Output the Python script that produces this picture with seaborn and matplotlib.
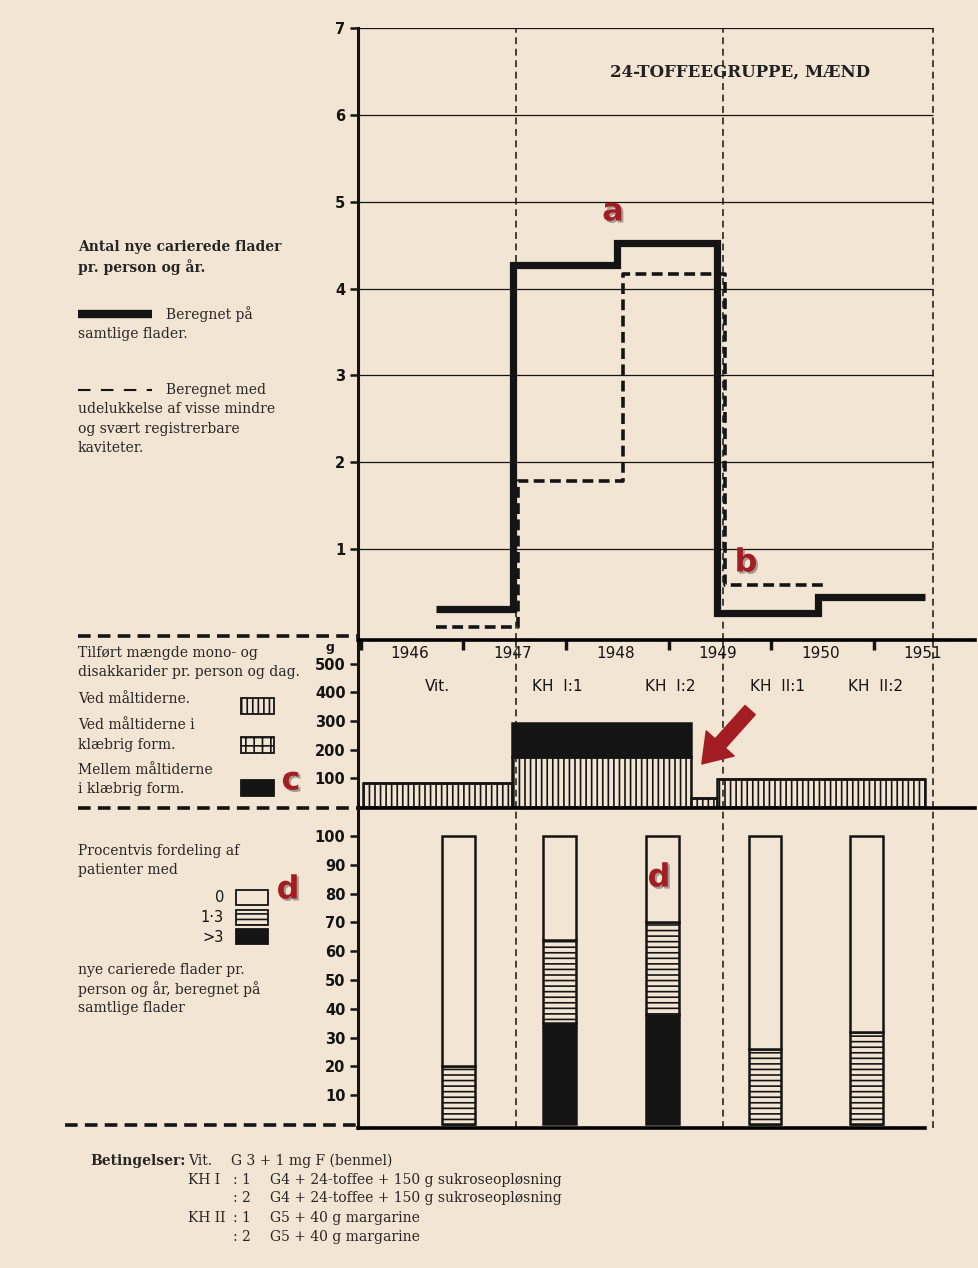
import matplotlib
matplotlib.use("Agg")
import matplotlib.pyplot as plt
import matplotlib.patheffects as pe
from matplotlib.patches import Rectangle, FancyArrowPatch
from matplotlib.lines import Line2D
import seaborn as sns

W, H = 979, 1268
BG = "#f3e5d3"
INK = "#141414"
RED = "#a31d23"
SERIF = "DejaVu Serif"
SANS = "DejaVu Sans"

## top panel: new carious surfaces per person and year (step lines)
solid_x = [1946.23, 1946.98, 1948.0, 1948.97, 1949.96, 1951.0]
solid_y = [0.31, 4.27, 4.53, 0.27, 0.45, 0.45]
dash_x = [1946.23, 1947.03, 1948.06, 1949.05, 1950.03]
dash_y = [0.10, 1.78, 4.17, 0.59, 0.59]

## middle panel: mono- and disaccharides, g per person and day
period_start = [1945.52, 1946.97, 1948.72, 1948.97]
period_end = [1946.97, 1948.72, 1948.97, 1951.0]
at_meals = [85, 173, 30, 97]
between_meals = [0, 120, 0, 0]

## bottom panel: percent of patients by new carious surfaces
group_x = [1946.45, 1947.44, 1948.44, 1949.44, 1950.43]
pct_over3 = [0, 35, 38, 0, 0]
pct_1to3 = [20, 29, 32, 26, 32]
pct_0 = [80, 36, 30, 74, 68]

years = [1946, 1947, 1948, 1949, 1950, 1951]
period_labels = ["Vit.", "KH  I:1", "KH  I:2", "KH  II:1", "KH  II:2"]
period_label_x = [1946.25, 1947.42, 1948.52, 1949.56, 1950.52]
boundaries = [1947.01, 1949.03, 1951.08]

plt.rcParams['hatch.linewidth'] = 1.2
fig = plt.figure(figsize=(W / 100, H / 100), dpi=100, facecolor=BG)

TICKFONT = dict(family=SANS, weight='bold', size=10.5)


def fx(x):
    return x / W


def fy(y):
    return 1 - y / H


def add_ax(top, bottom):
    ax = fig.add_axes([fx(358), fy(bottom), (975 - 358) / W, (bottom - top) / H])
    ax.set_facecolor("none")
    ax.set_xlim(1945.474, 1951.487)
    for s in ax.spines.values():
        s.set_visible(False)
    ax.spines['left'].set_visible(True)
    ax.spines['left'].set_linewidth(2.2)
    ax.spines['left'].set_color(INK)
    ax.tick_params(axis='y', direction='out', length=6, width=1.8, color=INK,
                   labelcolor=INK, pad=3)
    return ax


def style_ticklabels(ax):
    for t in ax.get_yticklabels():
        t.set_fontproperties(TICKFONT)
        t.set_color(INK)


ax_top = add_ax(28, 640)
ax_mid = add_ax(640, 808)
ax_bot = add_ax(808, 1128)

# ---------- top panel
ax_top.set_ylim(-0.046, 7.0)
ax_top.set_yticks(range(1, 8))
ax_top.set_xticks([])
ax_top.hlines(range(1, 8), 1945.474, 1951.08, color=INK, lw=0.9)
sns.lineplot(x=solid_x, y=solid_y, ax=ax_top, drawstyle='steps-post', color=INK,
             lw=5.2, estimator=None, sort=False, solid_joinstyle='miter',
             solid_capstyle='butt')
sns.lineplot(x=dash_x, y=dash_y, ax=ax_top, drawstyle='steps-post', color=INK,
             lw=2.6, estimator=None, sort=False, linestyle=(0, (3, 1.5)))
for b in boundaries:
    ax_top.axvline(b, color=INK, lw=1.1, linestyle=(0, (4.5, 3)))
ax_top.set_xlabel("")
ax_top.set_ylabel("")
style_ticklabels(ax_top)

# ---------- middle panel
ax_mid.set_ylim(-3.5, 582)
ax_mid.set_yticks([100, 200, 300, 400, 500])
ax_mid.spines['top'].set_visible(True)
ax_mid.spines['bottom'].set_visible(True)
ax_mid.spines['top'].set_linewidth(2.6)
ax_mid.spines['bottom'].set_linewidth(2.6)
ax_mid.set_xticks([y - 0.5 for y in years])
ax_mid.xaxis.set_ticks_position('top')
ax_mid.tick_params(axis='x', direction='in', length=7, width=2.5, color=INK,
                   labeltop=False, labelbottom=False)
widths = [e - s for s, e in zip(period_start, period_end)]
ax_mid.bar(period_start, at_meals, width=widths, align='edge', color=BG,
           edgecolor=INK, hatch='|||', lw=1.8)
ax_mid.bar(period_start, between_meals, width=widths, bottom=at_meals, align='edge',
           color=INK, edgecolor=INK, lw=1.8)
for b in boundaries:
    ax_mid.axvline(b, color=INK, lw=1.1, linestyle=(0, (4.5, 3)))
for yr in years:
    ax_mid.text(yr - 0.02, 535, str(yr), ha='center', va='center', fontsize=11,
                family=SANS, color=INK)
for lab, xl in zip(period_labels, period_label_x):
    ax_mid.text(xl, 420, lab, ha='center', va='center', fontsize=11,
                family=SANS, color=INK)
ax_mid.text(1945.2, 555, "g", ha='center', va='center', fontsize=9, family=SANS,
            weight='bold', color=INK)
style_ticklabels(ax_mid)

# ---------- bottom panel
ax_bot.set_ylim(-1.4, 109.7)
ax_bot.set_yticks(range(10, 101, 10))
ax_bot.set_xticks([])
ax_bot.spines['bottom'].set_visible(True)
ax_bot.spines['bottom'].set_linewidth(2.6)
ax_bot.spines['bottom'].set_bounds(1945.474, 1951.0)
bar_w = 0.32
ax_bot.bar(group_x, pct_over3, width=bar_w, color=INK, edgecolor=INK, lw=1.8)
ax_bot.bar(group_x, pct_1to3, width=bar_w, bottom=pct_over3, color=BG,
           edgecolor=INK, hatch='---', lw=1.8)
base0 = [a + b for a, b in zip(pct_over3, pct_1to3)]
ax_bot.bar(group_x, pct_0, width=bar_w, bottom=base0, color=BG, edgecolor=INK, lw=1.8)
for b in boundaries:
    ax_bot.axvline(b, color=INK, lw=1.1, linestyle=(0, (4.5, 3)))
style_ticklabels(ax_bot)

# ---------- separators on the left
for y0, x0 in [(636, 78), (808, 78), (1125, 65)]:
    fig.add_artist(Line2D([fx(x0), fx(358)], [fy(y0), fy(y0)], color=INK, lw=2.6,
                          linestyle=(0, (3.5, 2))))

# ---------- title
fig.text(fx(740), fy(72), "24-TOFFEEGRUPPE, MÆND", ha='center', va='center',
         fontsize=12, weight='bold', family=SERIF, color="#222222")


def serif(x, y, s, **kw):
    fig.text(fx(x), fy(y), s, ha='left', va='center', fontsize=10, family=SERIF,
             color="#262626", **kw)


serif(78, 247, "Antal nye carierede flader", weight='bold')
serif(78, 267, "pr. person og år.", weight='bold')
fig.add_artist(Line2D([fx(78), fx(152)], [fy(314), fy(314)], color=INK, lw=6,
                      solid_capstyle='butt'))
serif(166, 314, "Beregnet på")
serif(78, 334, "samtlige flader.")
fig.add_artist(Line2D([fx(78), fx(152)], [fy(390), fy(390)], color=INK, lw=1.5,
                      linestyle=(0, (6, 5))))
serif(166, 390, "Beregnet med")
serif(78, 409, "udelukkelse af visse mindre")
serif(78, 429, "og svært registrerbare")
serif(78, 448, "kaviteter.")

serif(78, 653, "Tilført mængde mono- og")
serif(78, 672, "disakkarider pr. person og dag.")
serif(78, 699, "Ved måltiderne.")
serif(78, 725, "Ved måltiderne i")
serif(78, 745, "klæbrig form.")
serif(78, 770, "Mellem måltiderne")
serif(78, 789, "i klæbrig form.")


def legend_box(x, y, w, h, **kw):
    fig.add_artist(Rectangle((fx(x), fy(y + h)), w / W, h / H, transform=fig.transFigure,
                             edgecolor=INK, lw=1.3, **kw))


legend_box(241, 698, 33, 16, facecolor=BG, hatch='|||')
legend_box(241, 737, 33, 16, facecolor=BG, hatch='++')
legend_box(241, 780, 33, 16, facecolor=INK)

serif(78, 851, "Procentvis fordeling af")
serif(78, 870, "patienter med")
for lab, yy in [("0", 898), ("1·3", 917), (">3", 937)]:
    fig.text(fx(224), fy(yy), lab, ha='right', va='center', fontsize=10.5,
             family=SANS, color=INK)
legend_box(236, 890, 32, 15, facecolor=BG)
legend_box(236, 910, 32, 15, facecolor=BG, hatch='---')
legend_box(236, 929, 32, 15, facecolor=INK)
serif(78, 970, "nye carierede flader pr.")
serif(78, 989, "person og år, beregnet på")
serif(78, 1008, "samtlige flader")

# ---------- footer
serif(90, 1161, "Betingelser:", weight='bold')
serif(188, 1161, "Vit.")
serif(231, 1161, "G 3 + 1 mg F (benmel)")
serif(188, 1180, "KH I")
serif(233, 1180, ": 1")
serif(270, 1180, "G4 + 24-toffee + 150 g sukroseopløsning")
serif(233, 1198, ": 2")
serif(270, 1198, "G4 + 24-toffee + 150 g sukroseopløsning")
serif(188, 1218, "KH II")
serif(233, 1218, ": 1")
serif(270, 1218, "G5 + 40 g margarine")
serif(233, 1237, ": 2")
serif(270, 1237, "G5 + 40 g margarine")

# ---------- red annotations
shadow = [pe.withSimplePatchShadow(offset=(1.5, -1.5), shadow_rgbFace='#555555',
                                   alpha=0.5)]
for (x, y, s) in [(613, 212, "a"), (746, 563, "b"), (291, 781, "c"),
                  (288, 890, "d"), (659, 878, "d")]:
    fig.text(fx(x), fy(y), s, ha='center', va='center', fontsize=23, weight='bold',
             family=SANS, color=RED, path_effects=shadow)
fig.add_artist(FancyArrowPatch((fx(752), fy(708)), (fx(700), fy(766)),
                               transform=fig.transFigure,
                               arrowstyle="simple,head_length=1.1,head_width=1.5,tail_width=0.55",
                               mutation_scale=18, color=RED))

fig.savefig("out.png", dpi=100, facecolor=BG)
